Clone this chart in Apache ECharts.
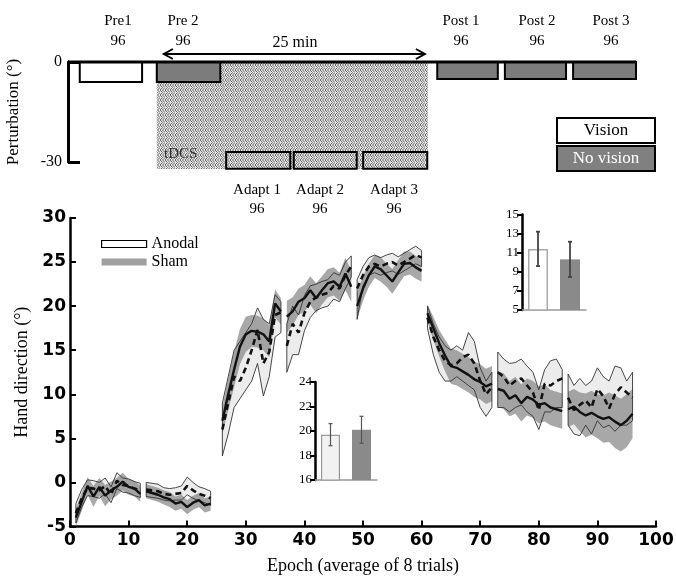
<!DOCTYPE html>
<html><head><meta charset="utf-8">
<script src="https://cdn.jsdelivr.net/npm/echarts@6/dist/echarts.min.js"></script>
<style>html,body{margin:0;padding:0;background:#fff}#c{width:676px;height:576px}</style>
</head><body><div id="c"></div>
<script>
// ---------- main panel data (epoch 1..96; null = not plotted) ----------
const blockStarts = [1, 13, 26, 37, 49, 61, 73, 85];
const blockEnds   = [12, 24, 36, 48, 60, 72, 84, 96];

const anodalMean = [
  -3.5, -1.8, -0.6, -0.7, -0.9, -0.4, -1.4, 0.2, -0.3, -0.4, -0.7, -0.9,
  -0.8, -0.9, -1.0, -1.3, -1.4, -1.3, -1.2, -0.4, -0.9, -1.3, -1.5, -1.8,
  null, 6.0, 9.0, 12.0, 11.5, 13.0, 15.0, 17.3, 13.5, 14.8, 19.0, 19.3,
  15.5, 18.0, 17.0, 19.2, 20.5, 21.0, 21.3, 21.5, 22.3, 22.0, 23.5, 24.5,
  22.0, 23.5, 24.5, 24.8, 24.5, 24.8, 25.0, 24.6, 25.0, 25.4, 25.8, 25.5,
  18.7, 16.5, 15.0, 13.8, 13.3, 13.5, 14.2, 14.5, 13.5, 11.5, 10.0, 10.8,
  12.5, 12.0, 11.0, 11.5, 11.8, 11.0, 10.2, 8.2, 11.2, 11.0, 11.5, 11.8,
  9.6, 8.2, 8.8, 9.3, 8.5, 10.6, 9.8, 8.4, 10.0, 10.8, 10.2, 9.6
];
const anodalLow = [
  -4.6, -2.8, -1.5, -1.6, -1.8, -1.3, -2.3, -0.7, -1.1, -1.2, -1.5, -1.7,
  -1.6, -1.7, -1.8, -2.0, -2.1, -2.0, -2.0, -1.4, -1.8, -2.1, -2.3, -2.6,
  null, 3.0, 5.5, 8.5, 9.5, 10.5, 11.5, 13.5, 9.8, 12.0, 16.5, 17.0,
  12.5, 14.5, 14.5, 17.2, 18.7, 19.5, 19.8, 20.0, 20.8, 20.5, 22.0, 23.3,
  18.5, 22.3, 23.5, 23.8, 23.5, 23.8, 24.0, 23.6, 24.0, 24.4, 24.8, 24.5,
  17.5, 14.5, 12.5, 11.5, 11.5, 12.0, 11.5, 11.0, 10.5, 8.5, 7.5, 8.5,
  8.5, 8.5, 8.0, 8.5, 8.8, 8.0, 7.5, 6.0, 8.0, 8.0, 8.5, 8.5,
  6.5, 5.5, 5.3, 6.5, 5.5, 7.0, 6.2, 6.5, 5.8, 6.5, 6.5, 7.0
];
const anodalHigh = [
  -2.4, -0.8, 0.3, 0.2, 0.0, 0.5, -0.5, 1.1, 0.5, 0.4, 0.1, -0.1,
  0.0, -0.1, -0.2, -0.6, -0.7, -0.6, -0.4, 0.6, 0.0, -0.5, -0.7, -1.0,
  null, 9.0, 12.0, 15.0, 16.0, 17.0, 18.0, 19.8, 18.5, 18.0, 21.3, 20.5,
  18.0, 20.0, 19.0, 21.2, 22.3, 22.5, 22.8, 23.0, 23.8, 23.5, 25.0, 25.7,
  23.0, 24.5, 25.5, 25.8, 25.5, 25.8, 26.0, 25.6, 26.0, 26.4, 26.8, 26.3,
  20.0, 18.0, 16.5, 15.5, 15.0, 15.5, 15.0, 17.0, 16.0, 13.0, 11.5, 12.5,
  14.8, 14.0, 13.5, 13.6, 14.0, 13.2, 12.5, 10.5, 12.8, 13.8, 14.0, 12.8,
  12.3, 11.0, 11.8, 11.0, 11.5, 13.0, 12.0, 11.5, 13.2, 13.0, 11.5, 12.5
];
const shamMean = [
  -4.0, -2.2, -0.4, -1.6, -0.5, -1.5, -0.9, -0.5, 0.1, -0.5, -0.7, -1.3,
  -1.0, -1.2, -1.4, -1.7, -1.9, -2.4, -2.2, -2.8, -2.3, -2.0, -2.6, -2.4,
  null, 7.0, 10.0, 12.8, 15.4, 16.8, 17.2, 17.1, 16.8, 16.0, 20.3, 19.4,
  18.8, 19.4, 20.5, 20.9, 21.8, 20.9, 21.8, 22.6, 22.8, 22.2, 23.7, 22.2,
  20.0, 22.0, 23.5, 24.5, 24.2, 23.5, 22.8, 23.8, 24.8, 24.9, 24.4, 24.0,
  19.2, 17.5, 15.8, 14.4, 13.2, 13.0, 12.6, 12.2, 11.7, 11.4, 10.9, 11.2,
  10.6, 10.4, 9.5, 9.9, 9.0, 9.7, 9.4, 8.8, 9.0, 8.5, 8.3, 8.1,
  8.3, 8.6, 8.0, 7.6, 7.9, 7.5, 7.2, 7.4, 6.9, 6.5, 7.0, 7.8
];
const shamLow = [
  -5.0, -3.2, -1.4, -2.8, -1.5, -2.7, -1.9, -1.5, -0.9, -1.4, -1.6, -2.2,
  -1.8, -2.0, -2.2, -2.5, -2.8, -3.2, -3.0, -3.6, -3.1, -2.8, -3.4, -3.2,
  null, 5.5, 8.2, 10.8, 13.4, 14.8, 15.4, 15.3, 15.0, 14.2, 18.7, 17.9,
  17.0, 17.8, 19.0, 19.4, 20.2, 19.2, 20.2, 21.0, 21.2, 20.6, 21.8, 20.5,
  18.5, 20.6, 22.2, 23.2, 22.8, 22.2, 21.4, 22.4, 23.4, 23.6, 23.1, 22.8,
  18.2, 16.2, 14.3, 12.6, 11.2, 11.0, 10.6, 10.2, 9.7, 9.4, 8.9, 9.2,
  8.6, 8.3, 7.5, 7.8, 6.9, 7.6, 7.3, 6.7, 6.9, 6.5, 6.3, 6.1,
  6.3, 6.6, 5.8, 5.1, 5.4, 5.0, 4.5, 4.6, 3.9, 3.5, 4.0, 5.0
];
const shamHigh = [
  -3.0, -1.2, 0.6, -0.4, 0.5, -0.3, 0.1, 0.5, 1.1, 0.4, 0.2, -0.4,
  -0.2, -0.4, -0.6, -0.9, -1.1, -1.6, -1.4, -2.0, -1.5, -1.2, -1.8, -1.6,
  null, 8.5, 11.8, 14.8, 17.4, 18.8, 19.0, 18.9, 18.6, 17.8, 21.9, 20.9,
  20.6, 21.0, 22.0, 22.4, 23.4, 22.6, 23.4, 24.2, 24.4, 23.8, 25.5, 24.0,
  21.5, 23.4, 24.8, 25.8, 25.6, 24.8, 24.2, 25.2, 26.2, 26.2, 25.7, 25.2,
  20.2, 18.8, 17.3, 16.2, 15.2, 15.0, 14.6, 14.2, 13.7, 13.4, 12.9, 13.2,
  12.6, 12.4, 11.5, 12.0, 11.1, 11.8, 11.5, 10.9, 11.1, 10.5, 10.3, 10.1,
  10.3, 10.6, 10.2, 10.1, 10.4, 10.0, 9.9, 10.2, 9.9, 9.5, 10.0, 10.6
];

// ---------- insets ----------
const insetGroups = ['Anodal', 'Sham'];
const inset1Mean = [19.7, 20.1];
const inset1Err  = [0.9, 1.1];
const inset2Mean = [11.4, 10.3];
const inset2Err  = [1.8, 1.85];

// ---------- schematic (top panel) ----------
const phaseNames  = ['Pre1', 'Pre 2', 'Adapt 1', 'Adapt 2', 'Adapt 3', 'Post 1', 'Post 2', 'Post 3'];
const phaseTrials = [96, 96, 96, 96, 96, 96, 96, 96];
const phaseKind   = ['vision', 'novision', 'adapt', 'adapt', 'adapt', 'novision', 'novision', 'novision'];
const phaseStart  = [2.0, 15.1, 26.9, 38.4, 50.2, 62.8, 74.3, 85.9];
const phaseEnd    = [12.6, 25.9, 37.8, 49.1, 61.1, 73.1, 84.7, 96.6];
const phaseTop    = [0, 0, -27, -27, -27, 0, 0, 0];
const phaseBottom = [-6, -6, -32, -32, -32, -5.1, -5.1, -5.1];
const tdcsSpan    = [15.1, 61.2, 0, -32.1];
const arrowSpan   = [16.3, 60.7, 2.4];
const zeroLine    = [[0, 0], [96.6, 0]];

// hatch pattern
const pat = document.createElement('canvas');
pat.width = 5; pat.height = 5;
(function () {
  const c = pat.getContext('2d');
  c.fillStyle = '#e6e6e6'; c.fillRect(0, 0, 5, 5);
  c.strokeStyle = '#666'; c.lineWidth = 1;
  c.beginPath();
  c.moveTo(0, 0); c.lineTo(2.5, 2.5); c.lineTo(0, 5);
  c.moveTo(2.5, 0); c.lineTo(5, 2.5); c.lineTo(2.5, 5);
  c.stroke();
})();
const hatch = { image: pat, repeat: 'repeat' };

const SERIF = 'Liberation Serif';

function lineData(arr) {
  const out = [];
  blockStarts.forEach((s, b) => {
    for (let ep = s; ep <= blockEnds[b]; ep++) {
      if (arr[ep - 1] != null) out.push([ep, arr[ep - 1]]);
    }
    out.push([blockEnds[b] + 0.5, null]);
  });
  return out;
}
function bandRender(lo, hi, style) {
  return function (params, api) {
    const b = params.dataIndex;
    const up = [], dn = [];
    for (let ep = blockStarts[b]; ep <= blockEnds[b]; ep++) {
      if (hi[ep - 1] == null) continue;
      up.push(api.coord([ep, hi[ep - 1]]));
      dn.push(api.coord([ep, lo[ep - 1]]));
    }
    return { type: 'polygon', shape: { points: up.concat(dn.reverse()) }, style: style };
  };
}
const blockData = blockStarts.map(s => [s, 0]);

function errRender(color, width) {
  return function (params, api) {
    const x = api.value(0);
    const a = api.coord([x, api.value(1)]);
    const b = api.coord([x, api.value(2)]);
    const w = 2;
    const st = { stroke: color, lineWidth: width };
    return { type: 'group', children: [
      { type: 'line', shape: { x1: a[0], y1: a[1], x2: b[0], y2: b[1] }, style: st },
      { type: 'line', shape: { x1: a[0] - w, y1: a[1], x2: a[0] + w, y2: a[1] }, style: st },
      { type: 'line', shape: { x1: b[0] - w, y1: b[1], x2: b[0] + w, y2: b[1] }, style: st }
    ] };
  };
}

const labelTexts = [];
const topLabelX = [118, 183, 257, 320, 394, 461, 537, 611];
phaseNames.forEach((n, i) => {
  const adapt = phaseKind[i] === 'adapt';
  labelTexts.push({ type: 'text', x: topLabelX[i], y: adapt ? 190 : 21,
    style: { text: n, font: '15px "' + SERIF + '"', fill: '#000', align: 'center', verticalAlign: 'middle' } });
  labelTexts.push({ type: 'text', x: topLabelX[i], y: adapt ? 209 : 41,
    style: { text: String(phaseTrials[i]), font: '15px "' + SERIF + '"', fill: '#000', align: 'center', verticalAlign: 'middle' } });
});

const chart = echarts.init(document.getElementById('c'), null, { renderer: 'canvas' });
const boldSans = { fontFamily: 'DejaVu Sans', fontWeight: 'bold', fontSize: 17, color: '#000' };

chart.setOption({
  animation: false,
  backgroundColor: '#fff',
  grid: [
    { left: 70, right: 20, top: 218, bottom: 49.5, outerBoundsMode: 'none', containLabel: false },
    { left: 68, width: 588, top: 62, height: 100, outerBoundsMode: 'none', containLabel: false },
    { left: 315, width: 62, top: 382, height: 98, outerBoundsMode: 'none', containLabel: false },
    { left: 522, width: 64, top: 214.5, height: 95.5, outerBoundsMode: 'none', containLabel: false }
  ],
  xAxis: [
    { gridIndex: 0, type: 'value', min: 0, max: 100, interval: 10,
      axisLine: { onZero: false, lineStyle: { color: '#000', width: 2.5 } },
      axisTick: { inside: true, length: 6, lineStyle: { color: '#000', width: 2 } },
      axisLabel: Object.assign({ margin: 6 }, boldSans),
      splitLine: { show: false },
      name: 'Epoch (average of 8 trials)', nameLocation: 'middle', nameGap: 31,
      nameTextStyle: { fontFamily: SERIF, fontSize: 18, color: '#000' } },
    { gridIndex: 1, type: 'value', min: 0, max: 100, show: false },
    { gridIndex: 2, type: 'category', data: insetGroups,
      axisLine: { onZero: false, lineStyle: { color: '#999', width: 1.5 } },
      axisTick: { show: false }, axisLabel: { show: false } },
    { gridIndex: 3, type: 'category', data: insetGroups,
      axisLine: { onZero: false, lineStyle: { color: '#999', width: 1.5 } },
      axisTick: { show: false }, axisLabel: { show: false } }
  ],
  yAxis: [
    { gridIndex: 0, type: 'value', min: -5, max: 30, interval: 5,
      axisLine: { show: true, onZero: false, lineStyle: { color: '#000', width: 2.5 } },
      axisTick: { show: true, inside: true, length: 6, lineStyle: { color: '#000', width: 2 } },
      axisLabel: Object.assign({ margin: 4 }, boldSans),
      splitLine: { show: false },
      name: 'Hand direction (°)', nameLocation: 'middle', nameGap: 31,
      nameTextStyle: { fontFamily: SERIF, fontSize: 18, color: '#000' } },
    { gridIndex: 1, type: 'value', min: -30, max: 0, interval: 30,
      axisLine: { show: true, onZero: false, lineStyle: { color: '#000', width: 3 } },
      axisTick: { show: true, inside: true, length: 12, lineStyle: { color: '#000', width: 3 } },
      axisLabel: { fontFamily: SERIF, fontSize: 16, color: '#000', margin: 6 },
      splitLine: { show: false },
      name: 'Perturbation (°)', nameLocation: 'middle', nameGap: 46,
      nameTextStyle: { fontFamily: SERIF, fontSize: 17, color: '#000' } },
    { gridIndex: 2, type: 'value', min: 16, max: 24, interval: 2,
      axisLine: { show: true, onZero: false, lineStyle: { color: '#000', width: 2.5 } },
      axisTick: { show: true, length: 5, lineStyle: { color: '#000', width: 2 } },
      axisLabel: { fontFamily: SERIF, fontSize: 13, color: '#000', margin: 3 },
      splitLine: { show: false } },
    { gridIndex: 3, type: 'value', min: 5, max: 15, interval: 2,
      axisLine: { show: true, onZero: false, lineStyle: { color: '#000', width: 2.5 } },
      axisTick: { show: true, length: 5, lineStyle: { color: '#000', width: 2 } },
      axisLabel: { fontFamily: SERIF, fontSize: 13, color: '#000', margin: 3 },
      splitLine: { show: false } }
  ],
  legend: {
    data: [
      { name: 'Anodal', itemStyle: { color: '#fff', borderColor: '#000', borderWidth: 1.2 } },
      { name: 'Sham', itemStyle: { color: '#a0a0a0', borderWidth: 0 } }
    ],
    icon: 'rect', orient: 'vertical', left: 96, top: 231,
    itemWidth: 45, itemHeight: 7, itemGap: 2, selectedMode: false,
    textStyle: { fontFamily: SERIF, fontSize: 16, color: '#000', padding: [0, 0, 0, 0] }
  },
  graphic: labelTexts.concat([
    { type: 'text', x: 295, y: 43, style: { text: '25 min', font: '16px "' + SERIF + '"', fill: '#000', align: 'center', verticalAlign: 'middle' } },
    { type: 'text', x: 164, y: 154, style: { text: 'tDCS', font: '15px "' + SERIF + '"', fill: '#333', align: 'left', verticalAlign: 'middle' }, z: 10 },
    { type: 'rect', shape: { x: 557, y: 118, width: 98, height: 25 }, style: { fill: '#fff', stroke: '#000', lineWidth: 2 } },
    { type: 'text', x: 606, y: 131, style: { text: 'Vision', font: '17px "' + SERIF + '"', fill: '#000', align: 'center', verticalAlign: 'middle' } },
    { type: 'rect', shape: { x: 557, y: 146, width: 98, height: 25 }, style: { fill: '#808080', stroke: '#000', lineWidth: 2 } },
    { type: 'text', x: 606, y: 159, style: { text: 'No vision', font: '17px "' + SERIF + '"', fill: '#fff', align: 'center', verticalAlign: 'middle' } }
  ]),
  series: [
    // ---- top schematic ----
    { type: 'custom', xAxisIndex: 1, yAxisIndex: 1, clip: false, silent: true, z: 1,
      data: [[tdcsSpan[0], tdcsSpan[2]]],
      renderItem: (params, api) => {
        const p0 = api.coord([tdcsSpan[0], tdcsSpan[2]]);
        const p1 = api.coord([tdcsSpan[1], tdcsSpan[3]]);
        return { type: 'rect', shape: { x: p0[0], y: p0[1], width: p1[0] - p0[0], height: p1[1] - p0[1] }, style: { fill: hatch } };
      } },
    { type: 'custom', xAxisIndex: 1, yAxisIndex: 1, clip: false, silent: true, z: 2,
      data: phaseStart.map((s, i) => [s, phaseTop[i]]),
      renderItem: (params, api) => {
        const i = params.dataIndex;
        const p0 = api.coord([phaseStart[i], phaseTop[i]]);
        const p1 = api.coord([phaseEnd[i], phaseBottom[i]]);
        const k = phaseKind[i];
        const fill = k === 'vision' ? '#fff' : (k === 'novision' ? '#7c7c7c' : hatch);
        return { type: 'rect', shape: { x: p0[0], y: p0[1], width: p1[0] - p0[0], height: p1[1] - p0[1] },
          style: { fill: fill, stroke: '#000', lineWidth: 2 } };
      } },
    { type: 'line', xAxisIndex: 1, yAxisIndex: 1, data: zeroLine, clip: false, symbol: 'none', silent: true, z: 5,
      lineStyle: { color: '#000', width: 3 } },
    { type: 'custom', xAxisIndex: 1, yAxisIndex: 1, clip: false, silent: true, z: 5,
      data: [[arrowSpan[0], arrowSpan[2]]],
      renderItem: (params, api) => {
        const a = api.coord([arrowSpan[0], arrowSpan[2]]);
        const b = api.coord([arrowSpan[1], arrowSpan[2]]);
        const st = { stroke: '#000', lineWidth: 2, fill: null };
        return { type: 'group', children: [
          { type: 'line', shape: { x1: a[0], y1: a[1], x2: b[0], y2: b[1] }, style: st },
          { type: 'polyline', shape: { points: [[a[0] + 9, a[1] - 5], [a[0], a[1]], [a[0] + 9, a[1] + 5]] }, style: st },
          { type: 'polyline', shape: { points: [[b[0] - 9, b[1] - 5], [b[0], b[1]], [b[0] - 9, b[1] + 5]] }, style: st }
        ] };
      } },
    // ---- main bands and means ----
    { type: 'custom', name: 'AnodalFill', xAxisIndex: 0, yAxisIndex: 0, silent: true, z: 2, data: blockData,
      renderItem: bandRender(anodalLow, anodalHigh, { fill: '#ececec', stroke: null }) },
    { type: 'custom', name: 'Sham', xAxisIndex: 0, yAxisIndex: 0, silent: true, z: 3, data: blockData,
      itemStyle: { color: '#a0a0a0' },
      renderItem: bandRender(shamLow, shamHigh, { fill: 'rgba(135,135,135,0.72)', stroke: null }) },
    { type: 'custom', name: 'Anodal', xAxisIndex: 0, yAxisIndex: 0, silent: true, z: 4, data: blockData,
      itemStyle: { color: '#fff', borderColor: '#000' },
      renderItem: bandRender(anodalLow, anodalHigh, { fill: null, stroke: '#333', lineWidth: 0.9 }) },
    { type: 'line', name: 'AnodalMean', xAxisIndex: 0, yAxisIndex: 0, data: lineData(anodalMean),
      symbol: 'none', connectNulls: false, silent: true, z: 5,
      lineStyle: { color: '#111', width: 2.6, type: [6, 4] } },
    { type: 'line', name: 'ShamMean', xAxisIndex: 0, yAxisIndex: 0, data: lineData(shamMean),
      symbol: 'none', connectNulls: false, silent: true, z: 6,
      lineStyle: { color: '#111', width: 2.4 } },
    // ---- inset 1 ----
    { type: 'bar', xAxisIndex: 2, yAxisIndex: 2, barWidth: 19, silent: true, z: 7,
      data: inset1Mean.map((v, i) => ({ value: v, itemStyle: i === 0 ? { color: '#f2f2f2', borderColor: '#9a9a9a', borderWidth: 1.2 } : { color: '#8a8a8a' } })) },
    { type: 'custom', xAxisIndex: 2, yAxisIndex: 2, silent: true, z: 8,
      data: inset1Mean.map((m, i) => [i, m + inset1Err[i], m - inset1Err[i]]),
      renderItem: errRender('#555', 1.2) },
    // ---- inset 2 ----
    { type: 'bar', xAxisIndex: 3, yAxisIndex: 3, barWidth: 20, silent: true, z: 7,
      data: inset2Mean.map((v, i) => ({ value: v, itemStyle: i === 0 ? { color: '#fff', borderColor: '#aaa', borderWidth: 1.5 } : { color: '#8a8a8a' } })) },
    { type: 'custom', xAxisIndex: 3, yAxisIndex: 3, silent: true, z: 8,
      data: inset2Mean.map((m, i) => [i, m + inset2Err[i], m - inset2Err[i]]),
      renderItem: errRender('#444', 1.8) }
  ]
});
</script>
</body></html>
